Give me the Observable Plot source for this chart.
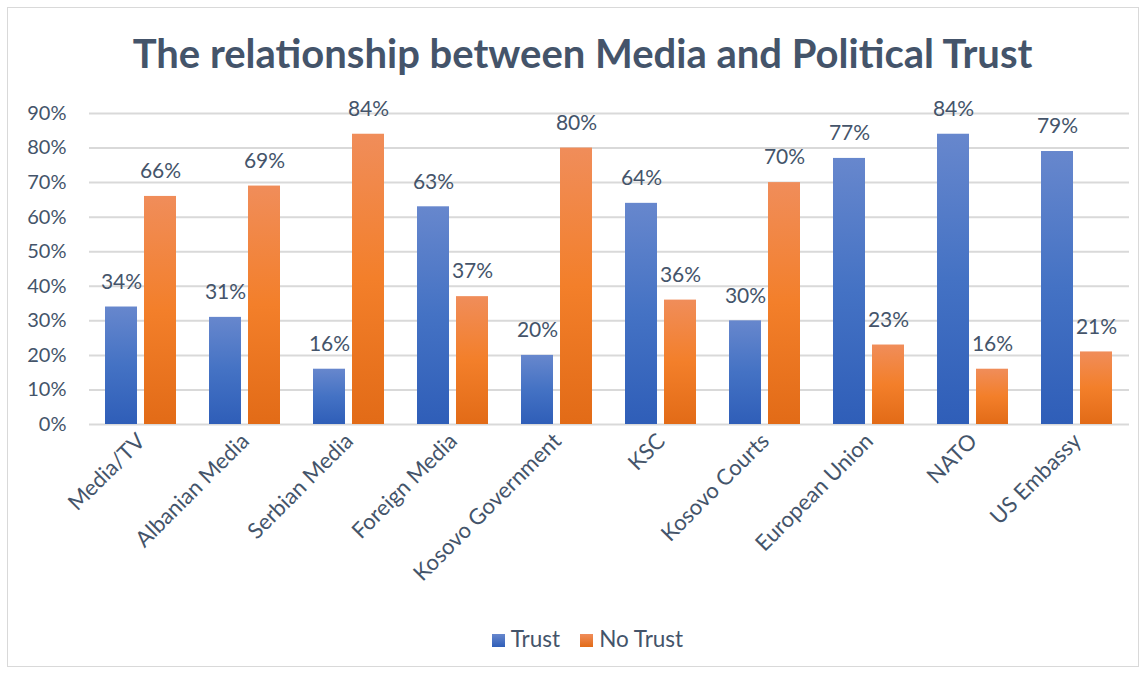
<!DOCTYPE html>
<html>
<head>
<meta charset="utf-8">
<script src="https://cdn.jsdelivr.net/npm/d3@7"></script>
<script src="https://cdn.jsdelivr.net/npm/@observablehq/plot@0.6"></script>
<style>
  html, body { margin: 0; padding: 0; background: #fff; }
  #frame { position: absolute; left: 7px; top: 7px; width: 1132px; height: 660px; border: 1px solid #D9D9D9; box-sizing: border-box; }
  #title { position: absolute; left: 9px; top: 29px; width: 1147px; text-align: center; font-family: Lato, sans-serif; font-weight: 700; font-size: 40px; color: #44546A; }
  #chart { position: absolute; left: 0; top: 85px; }
  #legend { position: absolute; left: 14px; top: 625px; width: 1147px; text-align: center; font-family: Lato, sans-serif; font-size: 22.5px; color: #44546A; }
  #legend span.sw { display: inline-block; width: 13px; height: 13px; margin-right: 6px; vertical-align: 0px; }
  #legend span.item { margin: 0 10px; }
</style>
</head>
<body>
<div id="frame"></div>
<div id="title">The relationship between Media and Political Trust</div>
<div id="chart"></div>
<div id="legend"></div>
<script>
const categories = ["Media/TV", "Albanian Media", "Serbian Media", "Foreign Media", "Kosovo Government", "KSC", "Kosovo Courts", "European Union", "NATO", "US Embassy"];
const series = ["Trust", "No Trust"];
const trust = [0.34, 0.31, 0.16, 0.63, 0.20, 0.64, 0.30, 0.77, 0.84, 0.79];
const noTrust = [0.66, 0.69, 0.84, 0.37, 0.80, 0.36, 0.70, 0.23, 0.16, 0.21];
const yTicks = [0, 0.1, 0.2, 0.3, 0.4, 0.5, 0.6, 0.7, 0.8, 0.9];

const data = [];
categories.forEach((c, i) => {
  data.push({category: c, series: "Trust", value: trust[i]});
  data.push({category: c, series: "No Trust", value: noTrust[i]});
});

const textColor = "#44546A";
const font = "Lato, sans-serif";

const chart = Plot.plot({
  width: 1147,
  height: 525,
  marginTop: 28,
  marginLeft: 88,
  marginRight: 17,
  marginBottom: 186,
  style: {fontFamily: font, fontSize: "20px", color: textColor, background: "transparent"},
  fx: {domain: categories, padding: 0, label: null, tickRotate: -45, tickSize: 0, tickPadding: 13},
  x: {domain: series, paddingInner: 0.175, paddingOuter: 0.39, axis: null},
  y: {domain: [0, 0.9], ticks: yTicks, tickFormat: d3.format(".0%"), label: null, tickSize: 0, tickPadding: 23},
  color: {domain: series, range: ["url(#gradTrust)", "url(#gradNoTrust)"]},
  marks: [
    Plot.ruleY(yTicks, {stroke: "#D9D9D9", strokeWidth: 2}),
    Plot.barY(data, {fx: "category", x: "series", y: "value", fill: "series"}),
    Plot.text(data, {fx: "category", x: "series", y: "value", text: d => d3.format(".0%")(d.value), dy: -25, fill: textColor, fontSize: 21}),
    () => {
      const svg = d3.create("svg:g");
      const defs = svg.append("defs");
      const g1 = defs.append("linearGradient").attr("id", "gradTrust").attr("x1", 0).attr("y1", 0).attr("x2", 0).attr("y2", 1);
      g1.append("stop").attr("offset", "0%").attr("stop-color", "#6787CD");
      g1.append("stop").attr("offset", "50%").attr("stop-color", "#4472C4");
      g1.append("stop").attr("offset", "100%").attr("stop-color", "#2F5EB8");
      const g2 = defs.append("linearGradient").attr("id", "gradNoTrust").attr("x1", 0).attr("y1", 0).attr("x2", 0).attr("y2", 1);
      g2.append("stop").attr("offset", "0%").attr("stop-color", "#F08D5A");
      g2.append("stop").attr("offset", "50%").attr("stop-color", "#F37F2A");
      g2.append("stop").attr("offset", "100%").attr("stop-color", "#E26B17");
      return svg.node();
    }
  ]
});
document.getElementById("chart").appendChild(chart);
d3.select(chart).selectAll("g[aria-label='fx-axis tick label'] text").style("font-size", "22px");

const legend = document.getElementById("legend");
const legendColors = ["linear-gradient(#6787CD, #2F5EB8)", "linear-gradient(#F08D5A, #E26B17)"];
series.forEach((s, i) => {
  const item = document.createElement("span");
  item.className = "item";
  const sw = document.createElement("span");
  sw.className = "sw";
  sw.style.background = legendColors[i];
  item.appendChild(sw);
  item.appendChild(document.createTextNode(s));
  legend.appendChild(item);
});
</script>
</body>
</html>
